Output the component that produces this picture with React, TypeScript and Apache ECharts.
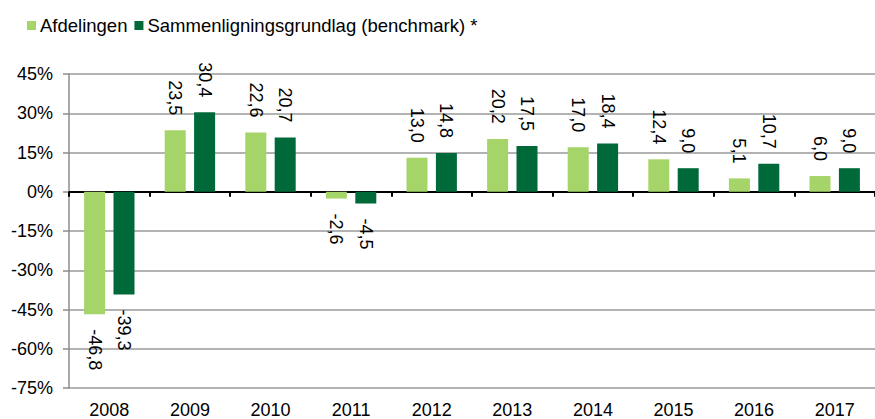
import React, { useEffect, useRef } from "react";
import * as echarts from "echarts";

const categories = ["2008", "2009", "2010", "2011", "2012", "2013", "2014", "2015", "2016", "2017"];
const afdelingen = [-46.8, 23.5, 22.6, -2.6, 13.0, 20.2, 17.0, 12.4, 5.1, 6.0];
const benchmark = [-39.3, 30.4, 20.7, -4.5, 14.8, 17.5, 18.4, 9.0, 10.7, 9.0];
const seriesNames = ["Afdelingen", "Sammenligningsgrundlag (benchmark) *"];
const colors = ["#A5D468", "#00693A"];

const FONT = "'Liberation Sans', Arial, sans-serif";

function fmt(v: number) {
  return v.toFixed(1).replace(".", ",");
}

function makeData(values: number[]) {
  return values.map((v) => ({
    value: v,
    label:
      v < 0
        ? { position: "bottom", align: "left", verticalAlign: "middle" }
        : { position: "top", align: "right", verticalAlign: "middle" },
  }));
}

export default function App() {
  const ref = useRef<HTMLDivElement>(null);
  useEffect(() => {
    if (!ref.current) return;
    const chart = echarts.init(ref.current, null, { renderer: "svg" });
    const labelCfg = {
      show: true,
      rotate: -90,
      distance: 15,
      fontSize: 18,
      fontFamily: FONT,
      color: "#000",
      formatter: (p: any) => fmt(p.value),
    };
    chart.setOption({
      animation: false,
      textStyle: { fontFamily: FONT },
      legend: {
        left: 22,
        top: 11,
        itemWidth: 9,
        itemHeight: 9,
        itemGap: 7,
        icon: "rect",
        textStyle: { fontSize: 18.5, color: "#000", fontFamily: FONT, padding: [0, 0, 0, -1] },
        data: seriesNames,
      },
      grid: { left: 69, right: -4, top: 74, bottom: 31, containLabel: false },
      xAxis: [
        {
          type: "category",
          data: categories,
          position: "bottom",
          axisLine: { show: false, onZero: false },
          axisTick: { show: false },
          axisLabel: { fontSize: 18, color: "#000", fontFamily: FONT, margin: 13 },
          splitLine: { show: false },
        },
        {
          type: "category",
          data: categories,
          position: "bottom",
          axisLine: { show: true, onZero: true, lineStyle: { color: "#000", width: 2 } },
          axisTick: { show: true, length: 5, lineStyle: { color: "#000", width: 2 } },
          axisLabel: { show: false },
          splitLine: { show: false },
        },
      ],
      yAxis: {
        type: "value",
        min: -75,
        max: 45,
        interval: 15,
        axisLine: { show: true, lineStyle: { color: "#8c8c8c", width: 1.5 } },
        axisTick: { show: true, length: 6, lineStyle: { color: "#8c8c8c", width: 1.5 } },
        axisLabel: {
          formatter: "{value}%",
          fontSize: 18,
          color: "#000",
          fontFamily: FONT,
          margin: 16,
        },
        splitLine: { show: true, lineStyle: { color: "#9a9a9a", width: 1.5 } },
      },
      series: [
        {
          name: seriesNames[0],
          type: "bar",
          xAxisIndex: 0,
          data: makeData(afdelingen),
          barWidth: 21,
          barGap: "40%",
          itemStyle: { color: colors[0] },
          label: labelCfg,
        },
        {
          name: seriesNames[1],
          type: "bar",
          xAxisIndex: 0,
          data: makeData(benchmark),
          barWidth: 21,
          barGap: "40%",
          itemStyle: { color: colors[1] },
          label: labelCfg,
        },
      ],
    });
    return () => chart.dispose();
  }, []);
  return (
    <div
      ref={ref}
      style={{ position: "absolute", left: 0, top: 0, width: 875, height: 419, background: "#fff" }}
    />
  );
}
